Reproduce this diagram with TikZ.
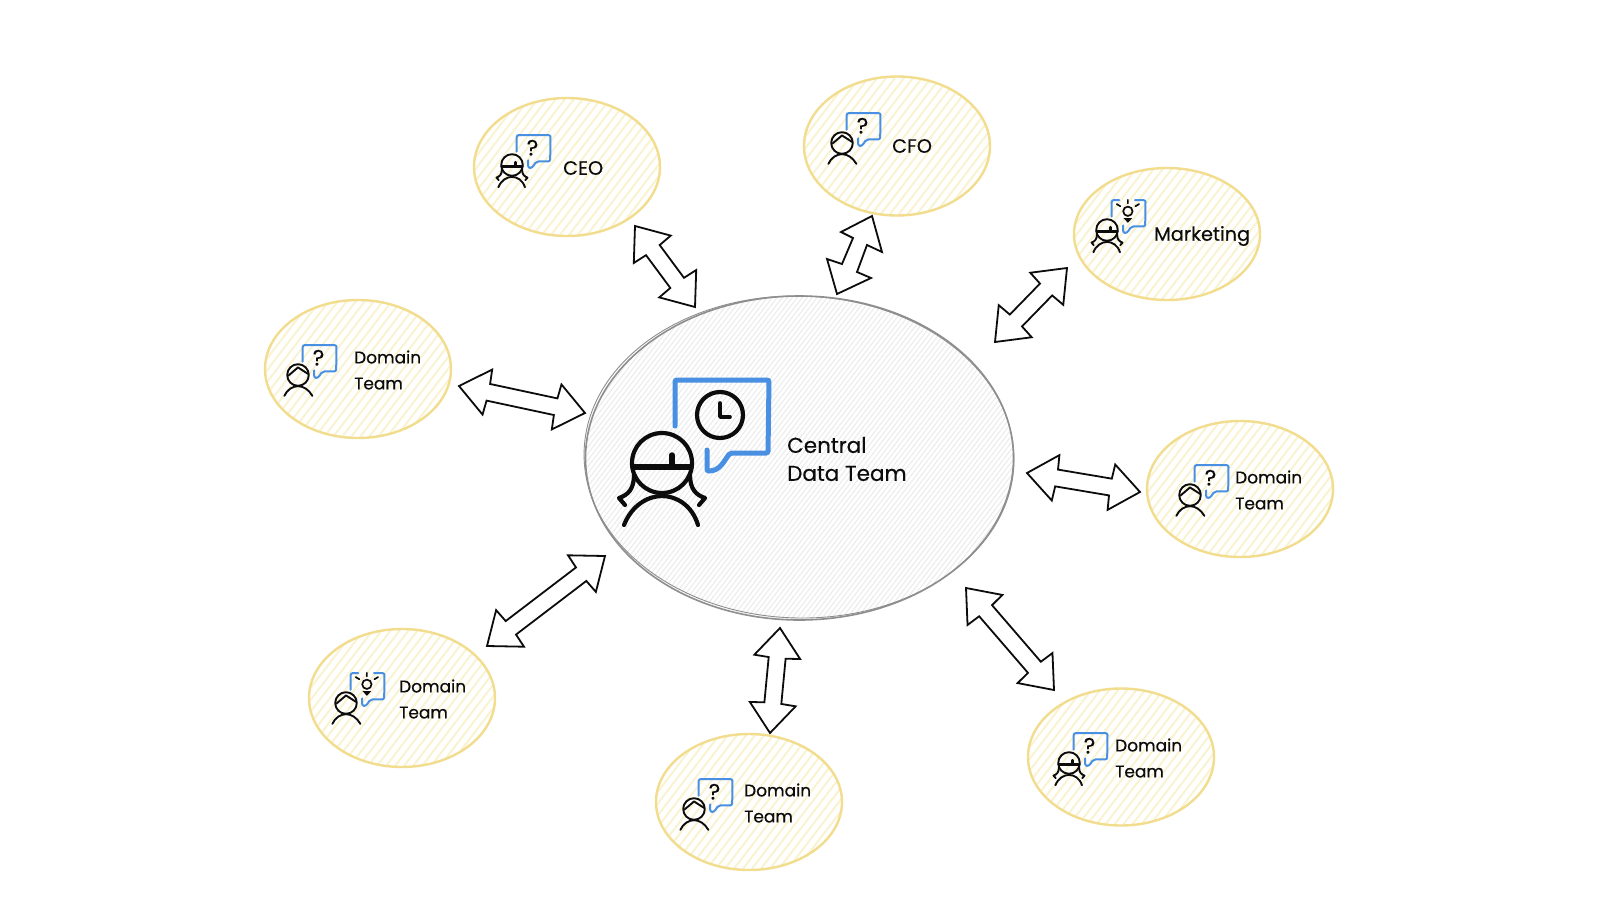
\documentclass[tikz,border=0pt]{standalone}
\usepackage{fontspec}
\setmainfont[FakeBold=0.35]{Poppins}
\usetikzlibrary{shapes.geometric,calc}
\definecolor{ybord}{HTML}{F2DC8E}
\definecolor{yhat}{HTML}{F9F3D2}
\definecolor{gbord}{HTML}{8E8E8E}
\definecolor{ghat}{HTML}{EBEBEB}
\definecolor{bubblue}{HTML}{4A90E2}
\definecolor{inkc}{HTML}{0C0C0C}
\newcommand{\hatchfill}[3]{%
  \foreach \o in {-#3,-\numexpr#3-#2\relax,...,#3}{%
    \draw[#1] ($(path picture bounding box.center)+(\o,0)+(-130,170)$) -- ($(path picture bounding box.center)+(\o,0)+(130,-170)$);}}
\tikzset{
  team/.style={ellipse,draw=ybord,line width=2.4pt,fill=white,inner sep=0pt,minimum width=186pt,minimum height=138pt,
    path picture={\hatchfill{yhat,line width=2pt}{9}{333}}},
  hub/.style={ellipse,draw=gbord,line width=1.6pt,fill=white,inner sep=0pt,minimum width=428pt,minimum height=324pt,
    path picture={\hatchfill{ghat,line width=1pt}{5}{500}}},
  arrowline/.style={draw=inkc,fill=white,line width=1.8pt,line join=miter},
  smalltxt/.style={anchor=west,align=left,text=inkc,font=\fontsize{17}{26}\selectfont,inner sep=0pt},
  widetxt/.style={anchor=west,align=left,text=inkc,font=\fontsize{19.3}{26}\selectfont,inner sep=0pt},
  bigtxt/.style={anchor=west,align=left,text=inkc,font=\fontsize{21.5}{28}\selectfont,inner sep=0pt},
  inkline/.style={draw=inkc,line cap=round,line join=round},
}
% person, variant A: fringe and long hair
\newcommand{\personA}[1]{%
  \draw[inkline,line width=#1] (0,0) circle[radius=30];
  \draw[inkline,line width=1.3*#1] (-29,4) -- (29,4);
  \draw[inkline,line width=1.3*#1] (10,-8) -- (10,3);
  \draw[inkline,line width=#1] (-28,12) .. controls (-28,26) and (-34,32) .. (-43,35) -- (-37,42);
  \draw[inkline,line width=#1] (28,12) .. controls (28,26) and (34,32) .. (43,35) -- (37,42);
  \draw[inkline,line width=#1] (-38,62) .. controls (-30,42) and (-14,33) .. (0,33) .. controls (14,33) and (30,42) .. (36,62);}
% person, variant B: chevron fringe
\newcommand{\personB}[1]{%
  \draw[inkline,line width=#1] (0,0) circle[radius=30];
  \draw[inkline,line width=#1] (-27,2) -- (0,-21) -- (28,-3);
  \draw[inkline,line width=#1] (-38,58) .. controls (-30,40) and (-14,31) .. (0,31) .. controls (14,31) and (30,40) .. (40,58);}
% speech bubbles
\newcommand{\bubbleFull}[1]{%
  \draw[draw=bubblue,line width=#1,rounded corners=2pt,line cap=round] (13,-37) -- (13,-83) -- (107,-83) -- (106,-10) -- (68,-10)
    .. controls (62,-2) and (58,8) .. (45,8) -- (45,-13);}
\newcommand{\bubbleGap}[1]{%
  \draw[draw=bubblue,line width=#1,rounded corners=2pt,line cap=round] (13,-37) -- (13,-83) -- (34,-83);
  \draw[draw=bubblue,line width=#1,rounded corners=2pt,line cap=round] (78,-83) -- (107,-83) -- (106,-10) -- (68,-10)
    .. controls (62,-2) and (58,8) .. (45,8) -- (45,-13);}
\newcommand{\qmark}{\node[text=inkc,font=\fontsize{22}{22}\selectfont,inner sep=0pt] (qm) at (57,-48) {?};}
\newcommand{\bulb}{%
  \draw[inkline,line width=1.7pt] (58,-52) circle[radius=13];
  \draw[inkline,line width=1.7pt] (58,-84) -- (58,-74) (27,-72) -- (37,-66) (89,-72) -- (79,-66);
  \fill[inkc] (46,-33) -- (70,-33) -- (58,-20) -- cycle;}
\newcommand{\smallicon}[4]{%
  \begin{scope}[shift={(#1,#2)},scale=0.36]
   \ifx#3A\personA{1.9pt}\else\personB{1.9pt}\fi
   \ifx#4q\bubbleFull{2pt}\qmark\else\bubbleGap{2pt}\bulb\fi
  \end{scope}}
\newcommand{\hollowarrow}[2]{%
  \draw[arrowline] (#1)
   -- ($(#1)!29pt!(#2)!23pt!90:(#2)$)
   -- ($(#1)!30pt!(#2)!8.5pt!90:(#2)$)
   -- ($(#2)!30pt!(#1)!8.5pt!-90:(#1)$)
   -- ($(#2)!29pt!(#1)!23pt!-90:(#1)$)
   -- (#2)
   -- ($(#2)!29pt!(#1)!23pt!90:(#1)$)
   -- ($(#2)!30pt!(#1)!8.5pt!90:(#1)$)
   -- ($(#1)!30pt!(#2)!8.5pt!-90:(#2)$)
   -- ($(#1)!29pt!(#2)!23pt!-90:(#2)$)
   -- cycle;}
\begin{document}
\begin{tikzpicture}[x=1pt,y=-1pt]
\useasboundingbox (0,0) rectangle (1600,900);
\fill[white] (0,0) rectangle (1600,900);
% hub
\node[hub] (central) at (799.5,458) {};
\draw[gbord,line width=0.9pt,rotate around={-1.5:(799.5,458)}] (799,457) ellipse[x radius=215,y radius=161];
% teams
\node[team] (ceo) at (567,167) {};
\node[team,minimum height=139pt] (cfo) at (897,146) {};
\node[team,minimum height=132pt] (mkt) at (1167,234) {};
\node[team] (left) at (358,369) {};
\node[team,minimum height=136pt] (right) at (1240,489) {};
\node[team] (lleft) at (402,698) {};
\node[team,minimum height=136pt] (bottom) at (749,802) {};
\node[team,minimum height=137pt] (lright) at (1121,757) {};
% labels
\node[bigtxt] (tcentral) at (787,459) {Central\\Data Team};
\node[widetxt] (tceo) at (563,168) {CEO};
\node[widetxt] (tcfo) at (892,146) {CFO};
\node[widetxt] (tmkt) at (1154,236) {Marketing};
\node[smalltxt] (tleft) at (354,370) {Domain\\Team};
\node[smalltxt] (tlleft) at (399,699) {Domain\\Team};
\node[smalltxt] (tright) at (1235,490) {Domain\\Team};
\node[smalltxt] (tbottom) at (744,803) {Domain\\Team};
\node[smalltxt] (tlright) at (1115,758) {Domain\\Team};
% icons
\begin{scope}[shift={(662,463)}]
  \personA{4.2pt}
  \bubbleFull{5pt}
  \draw[inkline,line width=4.2pt] (58,-48) circle[radius=23];
  \draw[inkline,line width=3.6pt] (58,-60) -- (58,-46) -- (68,-46);
\end{scope}
\smallicon{512}{165}{A}{q}
\smallicon{842}{143}{B}{q}
\smallicon{1107}{230}{A}{b}
\smallicon{298}{375}{B}{q}
\smallicon{346}{703}{B}{b}
\smallicon{1190}{495}{B}{q}
\smallicon{694}{809}{B}{q}
\smallicon{1069}{763}{A}{q}
% arrows
\coordinate (a1) at (635,226); \coordinate (b1) at (695,307);
\coordinate (a3) at (1067,268); \coordinate (b3) at (995,342);
\coordinate (a4) at (459,386); \coordinate (b4) at (585,413);
\coordinate (a5) at (1027,473); \coordinate (b5) at (1140,492);
\coordinate (a6) at (966,588); \coordinate (b6) at (1054,690);
\coordinate (a7) at (780,628); \coordinate (b7) at (770,733);
\coordinate (a8) at (605,556); \coordinate (b8) at (487,646);
\hollowarrow{a1}{b1}
\hollowarrow{a3}{b3}
\hollowarrow{a4}{b4}
\hollowarrow{a5}{b5}
\hollowarrow{a6}{b6}
\hollowarrow{a7}{b7}
\hollowarrow{a8}{b8}
% kinked CFO arrow
\coordinate (a2) at (872,216); \coordinate (b2) at (837,294);
\draw[arrowline] (a2) -- (882,252) -- (867,245) -- (857,272) -- (871,278) -- (b2) -- (827,259) -- (842,264) -- (853,238) -- (841,232) -- cycle;
\end{tikzpicture}
\end{document}
